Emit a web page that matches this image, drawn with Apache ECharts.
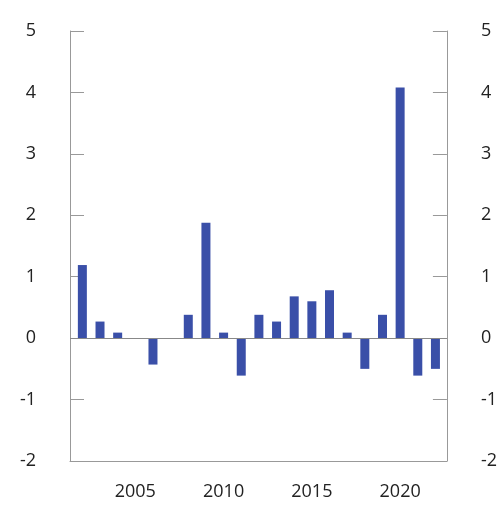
<!DOCTYPE html>
<html>
<head>
<meta charset="utf-8">
<script src="https://cdn.jsdelivr.net/npm/echarts@6/dist/echarts.min.js"></script>
<style>
html,body{margin:0;padding:0;background:#fff;}
#chart{width:500px;height:510px;}
</style>
</head>
<body>
<div id="chart"></div>
<script>
var years = [2002,2003,2004,2005,2006,2007,2008,2009,2010,2011,2012,2013,2014,2015,2016,2017,2018,2019,2020,2021,2022];
var values = [1.19,0.27,0.09,0,-0.43,0,0.38,1.88,0.09,-0.61,0.38,0.27,0.68,0.6,0.78,0.09,-0.5,0.38,4.08,-0.61,-0.5];
var xLabels = [2005,2010,2015,2020];
var yTicks = [-2,-1,0,1,2,3,4,5];

var chart = echarts.init(document.getElementById('chart'), null, {renderer:'canvas'});
var fontFam = '"Open Sans", "Noto Sans", sans-serif';
var axisGrey = '#999999';
function yAxisCfg(pos){
  return {
    type:'value', position:pos, min:yTicks[0], max:yTicks[yTicks.length-1], interval:1,
    axisLine:{show:true, lineStyle:{color:axisGrey, width:1}},
    axisTick:{show:true, inside:true, length:14, lineStyle:{color:axisGrey, width:1}},
    splitLine:{show:false},
    axisLabel:{show:true, margin:34, fontSize:18, color:'#222', fontFamily:fontFam}
  };
}
chart.setOption({
  animation:false,
  grid:{left:70, right:50, top:31, bottom:49, containLabel:false},
  xAxis:{
    type:'value', min:2001.3, max:2022.65,
    axisLine:{show:true, onZero:false, lineStyle:{color:axisGrey, width:1}},
    axisTick:{show:false},
    splitLine:{show:false},
    axisLabel:{show:true, customValues:xLabels, margin:22, fontSize:18, color:'#222', fontFamily:fontFam,
      formatter:function(v){return String(v);}}
  },
  yAxis:[yAxisCfg('left'), yAxisCfg('right')],
  series:[{
    type:'bar',
    yAxisIndex:0,
    barWidth:9,
    data: years.map(function(y,i){return [y, values[i]];}),
    itemStyle:{color:'#3a4fa8'},
    markLine:{
      silent:true, symbol:'none', label:{show:false},
      lineStyle:{color:'#888888', type:'solid', width:1},
      data:[{yAxis:0}]
    }
  }]
});
</script>
</body>
</html>
